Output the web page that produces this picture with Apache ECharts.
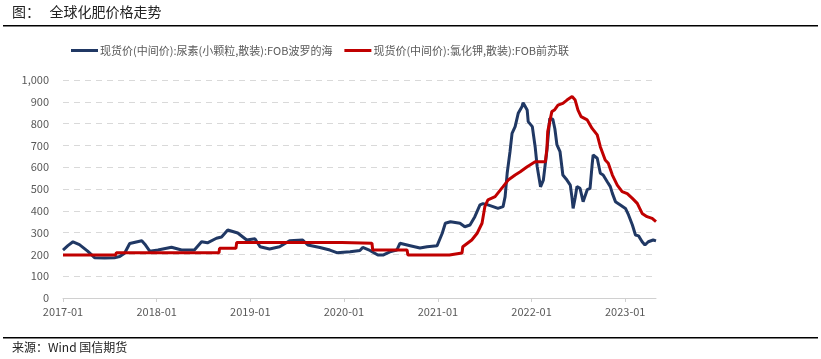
<!DOCTYPE html>
<html><head><meta charset="utf-8">
<script src="https://cdn.jsdelivr.net/npm/echarts@6/dist/echarts.min.js"></script>
<style>html,body{margin:0;padding:0;background:#fff}#c{width:821px;height:359px}</style>
</head><body><div id="c"></div>
<script>
const titleText = '图：   全球化肥价格走势';
const sourceText = '来源：Wind 国信期货';
const seriesNames = ['现货价(中间价):尿素(小颗粒,散装):FOB波罗的海', '现货价(中间价):氯化钾,散装):FOB前苏联'];
const yTicks = [0,100,200,300,400,500,600,700,800,900,1000];

const ureaDates = ['2017-01-01','2017-01-20','2017-02-09','2017-03-06','2017-04-07','2017-05-04','2017-06-12','2017-07-21','2017-08-10','2017-08-29','2017-09-18','2017-11-04','2017-11-16','2017-12-05','2018-01-06','2018-02-28','2018-04-08','2018-05-28','2018-06-25','2018-07-18','2018-08-22','2018-09-11','2018-10-05','2018-11-13','2018-12-18','2019-01-19','2019-02-08','2019-03-17','2019-04-25','2019-06-03','2019-07-24','2019-08-13','2019-09-29','2019-11-07','2019-12-04','2020-01-25','2020-03-03','2020-03-14','2020-04-11','2020-05-12','2020-06-01','2020-06-28','2020-07-25','2020-08-06','2020-09-15','2020-10-23','2020-11-20','2020-12-29','2021-01-18','2021-01-30','2021-02-19','2021-03-28','2021-04-16','2021-05-06','2021-05-25','2021-06-14','2021-06-26','2021-07-15','2021-08-04','2021-08-23','2021-09-12','2021-09-20','2021-09-28','2021-10-09','2021-10-17','2021-10-29','2021-11-10','2021-11-25','2021-11-29','2021-12-15','2021-12-19','2022-01-04','2022-01-15','2022-01-23','2022-02-05','2022-02-16','2022-03-02','2022-03-13','2022-03-25','2022-04-02','2022-04-10','2022-04-22','2022-05-03','2022-05-19','2022-06-01','2022-06-08','2022-06-12','2022-06-20','2022-06-27','2022-07-09','2022-07-21','2022-08-06','2022-08-17','2022-08-25','2022-08-29','2022-09-14','2022-09-26','2022-10-07','2022-10-23','2022-11-04','2022-11-12','2022-11-24','2022-12-13','2023-01-02','2023-01-14','2023-01-29','2023-02-10','2023-02-22','2023-03-08','2023-03-19','2023-04-01','2023-04-20','2023-05-01'];
const ureaValues = [220,240,258,245,215,185,183,185,190,205,250,263,247,215,220,233,220,220,258,253,274,280,312,298,266,272,235,225,235,263,266,243,232,220,208,212,218,232,218,197,197,212,220,251,240,229,235,240,297,343,350,343,327,335,373,427,433,427,419,411,419,465,572,671,755,786,847,878,896,862,809,786,694,602,510,541,679,824,820,775,702,671,564,541,518,457,411,460,511,503,442,497,503,610,656,641,572,564,533,511,480,442,427,411,381,335,289,285,258,243,258,266,262];

const potashDates = ['2017-01-01','2017-07-25','2017-07-28','2018-09-01','2018-09-03','2018-11-06','2018-11-09','2019-12-24','2019-12-27','2020-04-19','2020-04-22','2020-09-03','2020-09-06','2021-02-15','2021-02-18','2021-04-05','2021-04-08','2021-05-13','2021-06-03','2021-06-22','2021-07-03','2021-07-15','2021-08-12','2021-09-01','2021-09-12','2021-10-02','2021-10-29','2021-11-18','2021-12-15','2022-01-15','2022-02-24','2022-03-02','2022-03-05','2022-03-21','2022-03-31','2022-04-14','2022-05-03','2022-05-19','2022-06-08','2022-06-20','2022-07-01','2022-07-13','2022-08-06','2022-08-25','2022-09-14','2022-09-26','2022-10-15','2022-10-27','2022-11-12','2022-12-01','2022-12-20','2023-01-09','2023-01-29','2023-02-17','2023-03-08','2023-03-27','2023-04-16','2023-05-01'];
const potashValues = [197,197,207,207,228,228,255,255,251,251,220,220,197,197,206,206,235,266,297,343,419,450,465,495,511,541,564,579,602,625,625,687,763,855,862,885,893,908,924,908,862,832,817,778,748,694,633,618,564,518,488,479,457,434,388,373,365,350];

const chart = echarts.init(document.getElementById('c'));
const lbl = '#595959';
chart.setOption({
  animation: false,
  backgroundColor: '#fff',
  textStyle: {fontFamily: '"Noto Sans CJK SC", "Noto Sans", sans-serif'},
  graphic: [
    {type: 'text', left: 12, top: 5, style: {text: titleText, fontSize: 14, fill: '#222', fontFamily: '"Noto Sans CJK SC"'}},
    {type: 'rect', shape: {x: 3, y: 25, width: 815, height: 1.5}, style: {fill: '#000'}},
    {type: 'rect', shape: {x: 3, y: 337, width: 815, height: 1.5}, style: {fill: '#000'}},
    {type: 'text', left: 12, top: 341, style: {text: sourceText, fontSize: 12, fill: '#222', fontFamily: '"Noto Sans CJK SC"'}}
  ],
  legend: {
    top: 40, left: 66,
    icon: 'rect', itemWidth: 27, itemHeight: 3, itemGap: 12,
    textStyle: {color: lbl, fontSize: 11, padding: [0,0,0,-3]},
    data: seriesNames
  },
  grid: {left: 63, right: 165, top: 80, bottom: 61, containLabel: false},
  xAxis: {
    type: 'time',
    min: '2017-01-01', max: '2023-05-01',
    minInterval: 360*86400000, maxInterval: 370*86400000,
    axisLine: {lineStyle: {color: '#d0d0d0'}},
    axisTick: {show: true, length: 4, lineStyle: {color: '#d0d0d0'}},
    splitLine: {show: false},
    axisLabel: {color: lbl, fontSize: 11, margin: 8, showMinLabel: true,
      formatter: function (v) { const d = new Date(v); return d.getFullYear() + '-' + String(d.getMonth()+1).padStart(2,'0'); }}
  },
  yAxis: {
    type: 'value', min: yTicks[0], max: yTicks[yTicks.length-1], interval: 100,
    axisLine: {show: false}, axisTick: {show: false},
    splitLine: {lineStyle: {color: '#d9d9d9', type: [6,5]}},
    axisLabel: {color: lbl, fontSize: 11, margin: 14,
      formatter: function (v) { return v.toLocaleString('en-US'); }}
  },
  series: [
    {name: seriesNames[0], type: 'line', symbol: 'none', color: '#203864',
     lineStyle: {width: 3, color: '#203864'},
     data: ureaDates.map((d,i) => [d, ureaValues[i]])},
    {name: seriesNames[1], type: 'line', symbol: 'none', color: '#C00000',
     lineStyle: {width: 3, color: '#C00000'},
     data: potashDates.map((d,i) => [d, potashValues[i]])}
  ]
});
</script></body></html>
